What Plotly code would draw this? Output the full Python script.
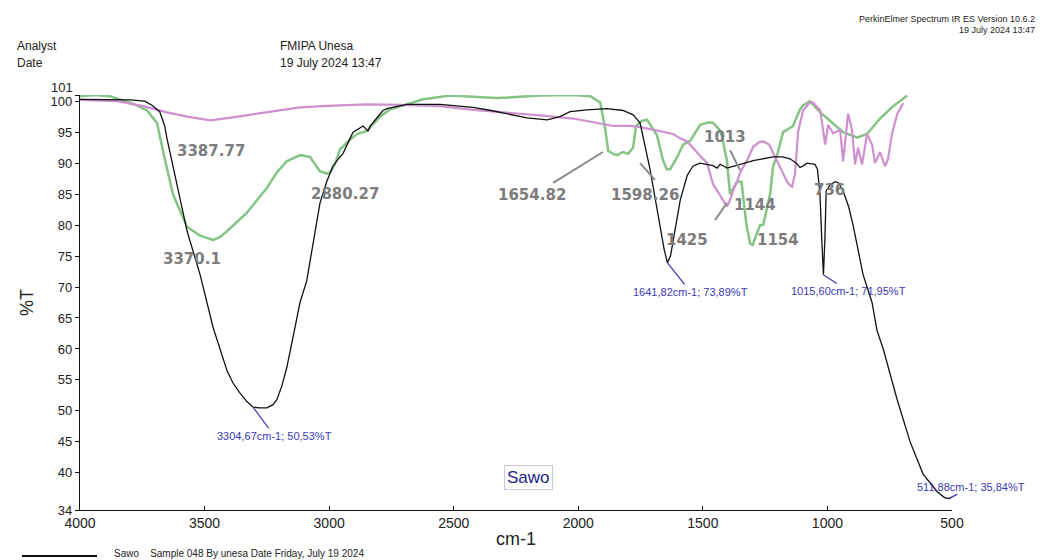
import plotly.graph_objects as go

# ---------------- data ----------------
sawo_x = [4000, 3900, 3800, 3740, 3710, 3680, 3660, 3651, 3610, 3570, 3518, 3466, 3438, 3410, 3386,
          3360, 3330, 3305, 3280, 3250, 3225, 3210, 3190, 3170, 3137, 3117, 3090, 3065, 3037, 3010,
          2985, 2957, 2945, 2916, 2904, 2864, 2850, 2844, 2835, 2824, 2784, 2768, 2715, 2688, 2555,
          2422, 2350, 2286, 2206, 2125, 2073, 2033, 1965, 1885, 1820, 1780, 1752, 1712, 1690, 1672,
          1655, 1642, 1630, 1619, 1591, 1563, 1540, 1512, 1480, 1459, 1443, 1431, 1415, 1403, 1350,
          1298, 1218, 1180, 1150, 1125, 1110, 1095, 1082, 1050, 1040, 1030, 1022, 1016, 1010, 1005,
          989, 969, 955, 937, 915, 897, 857, 821, 801, 776, 720, 668, 616, 560, 530, 512, 500]
sawo_y = [100.3, 100.3, 100.2, 100.0, 99.3, 98.3, 96.0, 94.0, 86.5, 79.0, 72.0, 63.5, 60.0, 56.5, 54.5,
          53.0, 51.5, 50.6, 50.5, 50.5, 51.0, 51.8, 54.0, 57.0, 63.5, 67.5, 71.0, 77.0, 83.5, 87.0,
          89.5, 91.0, 91.5, 94.0, 95.0, 96.0, 95.5, 95.2, 96.0, 96.5, 98.5, 98.8, 99.3, 99.5, 99.5,
          99.0, 98.5, 98.0, 97.3, 97.0, 97.5, 98.3, 98.6, 98.8, 98.5, 97.8, 96.5, 89.0, 84.0, 80.5,
          76.0, 73.9, 75.0, 77.5, 84.0, 88.0, 89.5, 90.0, 89.8, 89.6, 89.2, 89.8, 89.5, 89.2, 89.8,
          90.4, 91.0, 91.0, 90.7, 90.0, 89.3, 89.6, 90.0, 89.8, 89.0, 85.0, 77.0, 72.0, 78.0, 85.5,
          86.5, 87.0, 86.8, 85.5, 83.0, 80.0, 72.0, 67.5, 63.0, 60.0, 51.8, 45.0, 39.8, 37.0, 36.0, 35.84, 36.1]

green_x = [4000, 3940, 3880, 3787, 3731, 3691, 3667, 3627, 3570, 3518, 3466, 3440, 3410, 3370, 3330,
           3290, 3250, 3210, 3170, 3117, 3077, 3037, 3008, 2996, 2975, 2957, 2916, 2888, 2848, 2796,
           2755, 2728, 2623, 2515, 2422, 2326, 2234, 2153, 2020, 1952, 1912, 1892, 1880, 1860, 1844,
           1820, 1800, 1780, 1768, 1745, 1724, 1700, 1684, 1660, 1645, 1631, 1603, 1579, 1551, 1511,
           1475, 1459, 1435, 1423, 1403, 1391, 1363, 1345, 1325, 1310, 1300, 1285, 1270, 1258, 1240,
           1230, 1218, 1202, 1178, 1138, 1110, 1098, 1070, 1050, 1029, 989, 937, 881, 841, 789, 736, 680]
green_y = [100.8, 101.0, 100.8, 99.6, 98.5, 96.5, 92.0, 85.0, 79.7, 78.3, 77.6, 78.0, 79.0, 80.5, 82.0,
           84.0, 86.0, 88.5, 90.3, 91.3, 91.0, 88.7, 88.3, 88.5, 90.0, 92.2, 93.8, 94.7, 95.2, 97.5,
           98.7, 99.0, 100.3, 100.9, 100.7, 100.5, 100.7, 100.9, 101.0, 100.8, 99.8, 95.5, 92.0, 91.5, 91.3,
           91.8, 91.5, 92.5, 96.0, 96.8, 97.0, 95.5, 94.5, 90.5, 89.0, 89.0, 91.0, 93.0, 93.6, 96.2,
           96.6, 96.5, 95.5, 94.3, 90.3, 85.0, 87.0, 87.0, 80.0, 77.0, 76.8, 78.5, 80.0, 80.0, 83.0,
           85.0, 89.5, 91.3, 95.0, 96.0, 98.7, 99.3, 100.0, 99.2, 98.2, 96.8, 95.0, 94.1, 94.7, 97.2, 99.2, 100.9]

pink_x = [4000, 3851, 3747, 3651, 3570, 3478, 3386, 3250, 3117, 2984, 2848, 2715, 2555, 2422, 2286,
          2153, 2020, 1860, 1790, 1752, 1700, 1660, 1619, 1591, 1563, 1523, 1483, 1459, 1439, 1419,
          1403, 1391, 1375, 1363, 1350, 1322, 1298, 1274, 1258, 1234, 1206, 1178, 1162, 1150, 1142,
          1130, 1118, 1098, 1070, 1058, 1029, 1009, 997, 977, 949, 937, 917, 901, 889, 877,
          861, 841, 821, 809, 789, 769, 757, 741, 720, 696]
pink_y = [100.2, 100.0, 99.2, 98.2, 97.5, 96.9, 97.4, 98.2, 99.0, 99.3, 99.5, 99.4, 99.2, 98.6, 98.2,
          97.7, 97.2, 96.0, 96.0, 95.8, 95.4, 95.0, 94.7, 94.0, 93.5, 91.7, 90.0, 86.6, 85.3, 84.2,
          83.0, 84.0, 86.0, 87.0, 88.5, 90.5, 92.6, 93.4, 93.5, 93.0, 90.7, 88.3, 87.0, 86.4, 86.2,
          88.3, 95.0, 98.5, 99.8, 99.8, 98.5, 93.0, 96.2, 94.8, 95.4, 90.3, 98.0, 95.3, 89.8, 92.5,
          89.8, 94.7, 93.0, 90.0, 91.8, 89.5, 90.6, 94.7, 97.9, 99.7]

peak_x = [3304.67, 1641.82, 1015.60, 511.88]
peak_y = [50.53, 73.89, 71.95, 35.84]

band_labels = ["3387.77", "3370.1", "2880.27", "1654.82", "1598.26", "1425", "1013", "1144", "1154", "736"]
band_label_x = [3474, 3550, 2936, 2186, 1732, 1564, 1411, 1291, 1198, 990]
band_label_y = [92.0, 74.5, 85.0, 84.9, 84.9, 77.6, 94.2, 83.2, 77.6, 85.7]

y_ticks = [34, 40, 45, 50, 55, 60, 65, 70, 75, 80, 85, 90, 95, 100, 101]
x_ticks = [4000, 3500, 3000, 2500, 2000, 1500, 1000, 500]

FONT = "Liberation Sans, Arial, sans-serif"

# page body has an 8 px margin: plot area is placed at canvas x 80..952, y 95..510
W, H = 1038, 552
L, T = 72, 87
PW, PH = 872, 415

fig = go.Figure()
fig.add_trace(go.Scatter(x=green_x, y=green_y, mode="lines",
                         line=dict(color="#84c484", width=2.5), showlegend=False))
fig.add_trace(go.Scatter(x=pink_x, y=pink_y, mode="lines",
                         line=dict(color="#cf90cf", width=2.2), showlegend=False))
fig.add_trace(go.Scatter(x=sawo_x, y=sawo_y, mode="lines", name="Sawo",
                         line=dict(color="#111111", width=1.3), showlegend=False))

# blue peak labels
offsets = [(21, 28), (23, 29), (25, 16), (22, -12)]
for px_, py_, (ax, ay) in zip(peak_x, peak_y, offsets):
    txt = f"{px_:.2f}".replace(".", ",") + "cm-1; " + f"{py_:.2f}".replace(".", ",") + "%T"
    fig.add_annotation(x=px_, y=py_, xref="x", yref="y", text=txt, showarrow=True,
                       arrowhead=0, arrowwidth=1.2, arrowcolor="#3a3ab8", ax=ax, ay=ay,
                       font=dict(family=FONT, size=11, color="#3a3ab8"))

# grey pasted band labels
for t, bx, by in zip(band_labels, band_label_x, band_label_y):
    fig.add_annotation(x=bx, y=by, xref="x", yref="y", text=f"<b>{t}</b>", showarrow=False,
                       font=dict(family="DejaVu Sans", size=15, color="#7d7d7d"))

# grey leader lines
leaders = [((2101, 86.8), (1901, 91.8)), ((1752, 90.0), (1692, 87.3)),
           ((1391, 92.1), (1351, 88.9)), ((1451, 80.8), (1403, 83.6))]
for (x0, y0), (x1, y1) in leaders:
    fig.add_shape(type="line", xref="x", yref="y", x0=x0, y0=y0, x1=x1, y1=y1,
                  line=dict(color="#8a8a8a", width=2))


def ptext(px, py, text, size, anchor="left", color="#222222", **kw):
    # canvas pixels -> paper coords of the plot area
    fig.add_annotation(x=(px - 80) / PW, y=(510 - py) / PH, xref="paper", yref="paper",
                       text=text, showarrow=False, xanchor=anchor, yanchor="middle",
                       font=dict(family=FONT, size=size, color=color), **kw)


# Sample name box
ptext(528, 477, "Sawo", 17, anchor="center", color="#22228a",
      bordercolor="#c8c8d8", borderwidth=1, borderpad=2, bgcolor="white")

ptext(15, 46, "Analyst", 12)
ptext(15, 63, "Date", 12)
ptext(278, 46, "FMIPA Unesa", 12)
ptext(278, 63, "19 July 2024 13:47", 12)
ptext(1037, 19, "PerkinElmer Spectrum IR ES Version 10.6.2", 9, anchor="right")
ptext(1037, 30, "19 July 2024 13:47", 9, anchor="right")
ptext(112, 553, "Sawo&nbsp;&nbsp;&nbsp;&nbsp;Sample 048 By unesa Date Friday, July 19 2024", 10)
# top tick label 101 nudged up a little (as in the reference)
ptext(75, 87, "101", 13, anchor="right")

# legend line at bottom
fig.add_shape(type="line", xref="paper", yref="paper",
              x0=(22 - 80) / PW, x1=(97 - 80) / PW, y0=(510 - 556) / PH, y1=(510 - 556) / PH,
              line=dict(color="#111111", width=2))

fig.update_layout(
    width=W, height=H,
    margin=dict(l=L, r=W - L - PW, t=T, b=H - T - PH),
    paper_bgcolor="white", plot_bgcolor="white",
    font=dict(family=FONT, size=14, color="#222222"),
)
fig.update_xaxes(range=[4000, 500], tickvals=x_ticks, ticktext=[str(v) for v in x_ticks],
                 showgrid=False, zeroline=False, showline=True, linecolor="#111111", linewidth=1.2,
                 ticks="inside", ticklen=4, tickcolor="#111111", automargin=False,
                 tickfont=dict(family=FONT, size=14, color="#222222"),
                 title=dict(text="cm-1", font=dict(family=FONT, size=18, color="#222222"), standoff=2))
fig.update_yaxes(range=[34, 101], tickvals=y_ticks,
                 ticktext=[("" if v == 101 else str(v)) for v in y_ticks],
                 showgrid=False, zeroline=False, showline=True, linecolor="#111111", linewidth=1.2,
                 ticks="outside", ticklen=4, tickcolor="#111111", automargin=False,
                 tickfont=dict(family=FONT, size=13, color="#222222"),
                 title=dict(text="%T", font=dict(family=FONT, size=18, color="#222222"), standoff=12))

fig.write_html("out.html")
